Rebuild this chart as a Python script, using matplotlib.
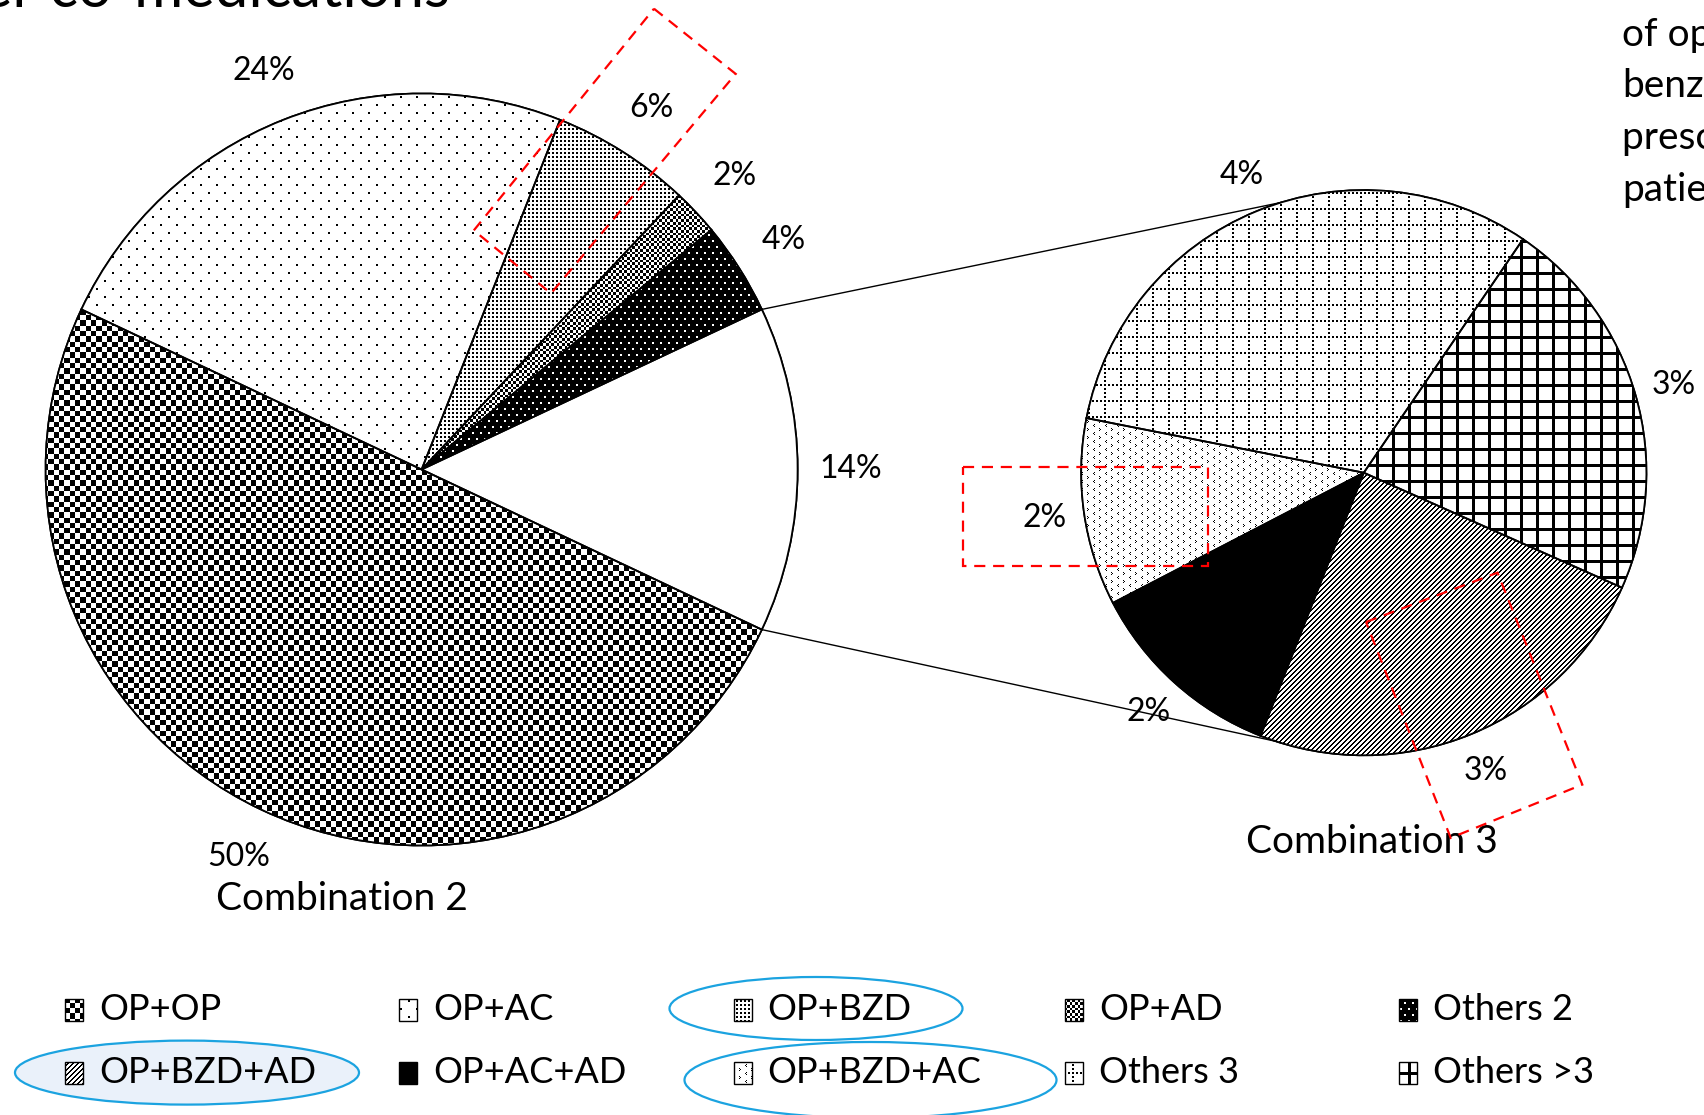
import numpy as np
import matplotlib
matplotlib.use('Agg')
import matplotlib.pyplot as plt
from matplotlib.patches import Wedge, Rectangle, Ellipse, Polygon

plt.rcParams['font.family'] = ['Lato', 'DejaVu Sans']

# two-drug combinations (share of all patients, %)
combo2_labels = ['OP+OP', 'OP+AC', 'OP+BZD', 'OP+AD', 'Others 2']
combo2_values = [50, 24, 6, 2, 4]
combo2_fills = ['checker', 'sparse', 'dense', 'fine', 'darkdots']

# three-or-more-drug combinations (share of all patients, %)
combo3_labels = ['OP+BZD+AD', 'OP+AC+AD', 'OP+BZD+AC', 'Others 3', 'Others >3']
combo3_values = [3.4, 1.6, 1.5, 4.4, 3.1]
combo3_fills = ['diag', 'black', 'divot', 'dotgrid', 'grid']

W, H = 1704, 1115


def texture(kind, x0, y0, w, h):
    # pattern in global pixel coords (y counted downward) so tiles line up
    ys = np.arange(H - (y0 + h), H - y0)
    xs = np.arange(x0, x0 + w)
    yy, xx = np.meshgrid(ys, xs, indexing='ij')
    if kind == 'checker':
        t = (np.floor(xx / 5.33) + np.floor(yy / 5.33)) % 2
    elif kind == 'sparse':
        t = (yy % 8 < 2) & ((xx + 8 * ((yy // 8) % 2)) % 16 < 2)
    elif kind == 'dense':
        t = (xx % 4 < 2) & (yy % 4 < 2)
    elif kind == 'fine':
        t = (np.floor(xx / 2.7) + np.floor(yy / 2.7)) % 2
    elif kind == 'darkdots':
        t = ~((yy % 6 < 2) & ((xx + 4 * ((yy // 6) % 2)) % 8 < 2))
    elif kind == 'dotgrid':
        t = ((yy % 16 < 2) & (xx % 4 < 2)) | ((xx % 16 < 2) & (yy % 4 < 2))
    elif kind == 'grid':
        t = (xx % 16 < 3) | (yy % 16 < 3)
    elif kind == 'diag':
        t = (xx + yy) % 5 < 2
    elif kind == 'black':
        t = np.ones_like(xx, dtype=bool)
    elif kind == 'divot':
        tx, ty = xx % 12, yy % 8
        t = (((ty == 0) | (ty == 2)) & (tx == 2)) | ((ty == 1) & (tx == 1)) \
            | (((ty == 4) | (ty == 6)) & (tx == 7)) | ((ty == 5) & (tx == 8))
    else:
        t = np.zeros_like(xx, dtype=bool)
    return t.astype(float)


def fill_patch(ax, patch, kind, bbox, zorder=1.5):
    x0, y0 = int(np.floor(bbox[0])), int(np.floor(bbox[1]))
    x1, y1 = int(np.ceil(bbox[2])), int(np.ceil(bbox[3]))
    arr = texture(kind, x0, y0, x1 - x0, y1 - y0)
    im = ax.imshow(arr, cmap='gray_r', vmin=0, vmax=1, origin='upper',
                   extent=(x0, x1, y0, y1), interpolation='nearest', zorder=zorder)
    im.set_clip_path(patch)


def draw_pie(ax, values, fills, center, radius, start, total):
    wedges, _, autotexts = ax.pie(
        values, center=center, radius=radius, startangle=start,
        counterclock=True, pctdistance=1.14,
        autopct=lambda p: '%.0f%%' % (p * total / 100 + 1e-9),
        wedgeprops=dict(facecolor='white', edgecolor='black', linewidth=1.3),
        textprops=dict(fontsize=23, color='black'))
    for w, kind in zip(wedges, fills):
        cx, cy = w.center
        fill_patch(ax, w, kind, (cx - w.r, cy - w.r, cx + w.r, cy + w.r))
        ax.add_patch(Wedge(w.center, w.r, w.theta1, w.theta2, fill=False,
                           edgecolor='black', linewidth=1.3, zorder=2))
    return wedges


fig = plt.figure(figsize=(W / 100, H / 100), dpi=100)
ax = fig.add_axes([0, 0, 1, 1])

agg = sum(combo3_values)
left_vals = [agg] + combo2_values[::-1]
left_fills = ['plain'] + combo2_fills[::-1]
left_c, left_r = (421.6, 645.5), 376
left_start = -agg / 100 * 360 / 2
left_w = draw_pie(ax, left_vals, left_fills, left_c, left_r, left_start, sum(left_vals))

right_c, right_r = (1363.8, 642.3), 282.6
draw_pie(ax, combo3_values[::-1], combo3_fills[::-1], right_c, right_r, -24, agg)

# connectors from the aggregated slice to the second pie
agg_w = left_w[0]
for a_left, a_right in [(agg_w.theta2, 107), (agg_w.theta1, 252)]:
    p0 = (left_c[0] + left_r * np.cos(np.radians(a_left)),
          left_c[1] + left_r * np.sin(np.radians(a_left)))
    p1 = (right_c[0] + right_r * np.cos(np.radians(a_right)),
          right_c[1] + right_r * np.sin(np.radians(a_right)))
    ax.plot([p0[0], p1[0]], [p0[1], p1[1]], color='black', lw=1.0, zorder=2)

ax.text(342, 216, 'Combination 2', fontsize=28, ha='center', va='center', zorder=3)
ax.text(1372, 273, 'Combination 3', fontsize=28, ha='center', va='center', zorder=3)

# heading and side note running off the slide edges
ax.text(450, 1108, 'Number of other co-medications', fontsize=43,
        ha='right', va='baseline')
side = ['of opioids and', 'benzodiazepines', 'prescribed to', 'patients']
for i, line in enumerate(side):
    ax.text(1622, 1080 - 51.5 * i, line, fontsize=28, ha='left', va='center')

# legend
blue = '#1BA3E0'
ax.add_patch(Ellipse((187, 42.4), 344, 64, facecolor='#EAF1FA', edgecolor=blue,
                     lw=1.6, zorder=2))
ax.add_patch(Ellipse((816, 106.5), 293, 63, facecolor='none', edgecolor=blue,
                     lw=1.6, zorder=4))
ax.add_patch(Ellipse((870.5, 35), 372, 76, facecolor='none', edgecolor=blue,
                     lw=1.6, zorder=4))

col_x = [65, 399, 733.5, 1065, 1398.6]
row_y = [105.4, 42.4]
for row, (labels, fills) in enumerate([(combo2_labels, combo2_fills),
                                       (combo3_labels, combo3_fills)]):
    for lab, kind, mx in zip(labels, fills, col_x):
        cy = row_y[row]
        box = Rectangle((mx, cy - 11), 18, 22, facecolor='white',
                        edgecolor='none', zorder=3)
        ax.add_patch(box)
        fill_patch(ax, box, kind, (mx, cy - 11, mx + 18, cy + 11), zorder=3.5)
        ax.add_patch(Rectangle((mx, cy - 11), 18, 22, fill=False,
                               edgecolor='black', lw=1.0, zorder=4))
        ax.text(mx + 34, cy, lab, fontsize=26, ha='left', va='center', zorder=4)

# red dashed call-outs
boxes = [
    [(654, 1106.3), (735.7, 1041.1), (551, 821.6), (473.8, 884.6)],
    [(963, 648), (1207.5, 648), (1207.5, 549.5), (963, 549.5)],
    [(1366, 493), (1497.5, 542.3), (1582.3, 330.4), (1450.7, 277.1)],
]
for pts in boxes:
    ax.add_patch(Polygon(pts, closed=True, fill=False, edgecolor='red',
                         lw=1.6, linestyle=(0, (5, 3.5)), zorder=5))

ax.set_xlim(0, W)
ax.set_ylim(0, H)
ax.set_aspect('auto')
ax.axis('off')
fig.savefig('out.png', dpi=100)
